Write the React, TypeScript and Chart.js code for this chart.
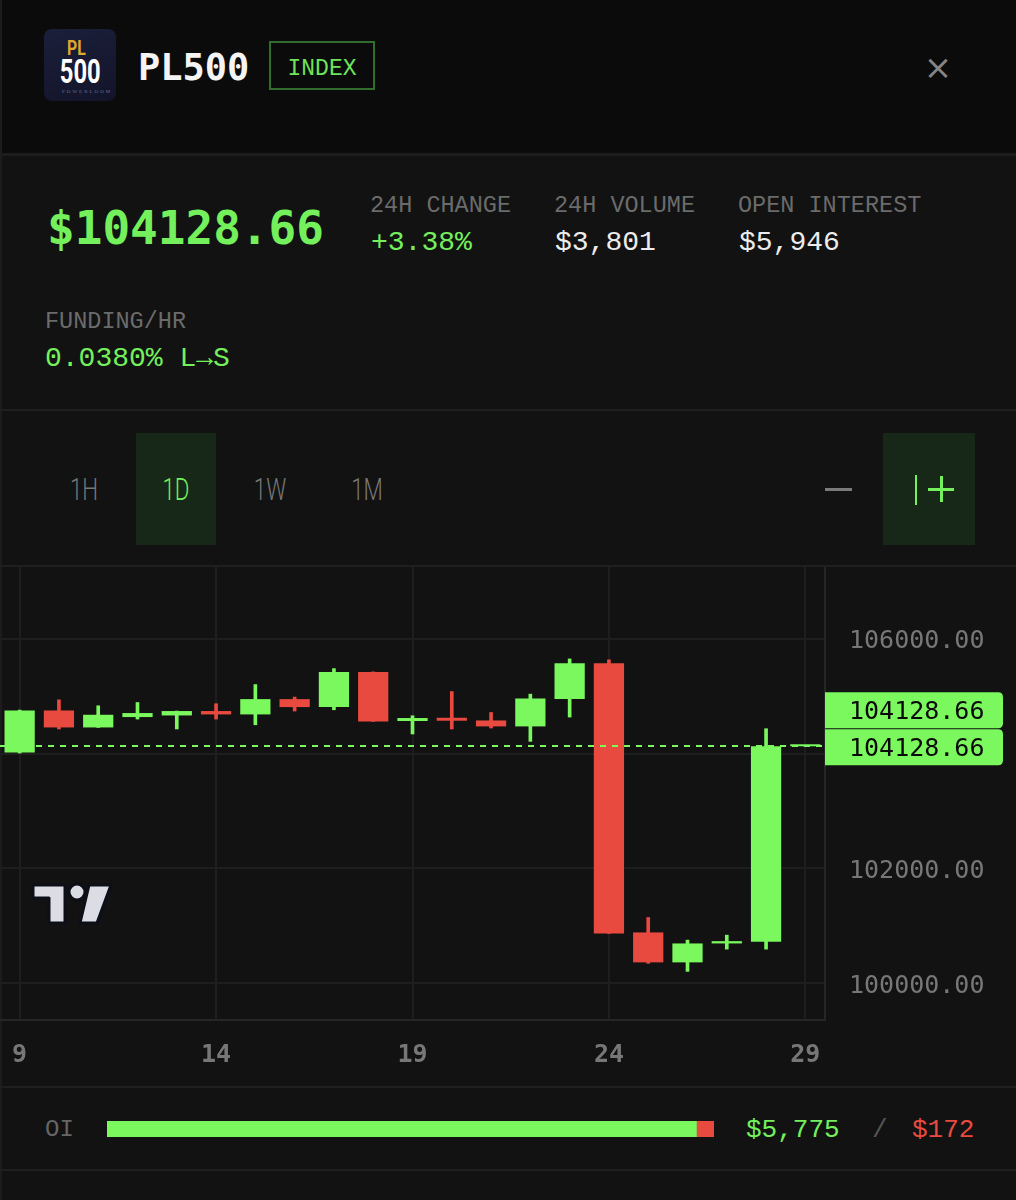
import React, { useEffect, useRef } from 'react';
import { Chart, registerables } from 'chart.js';

Chart.register(...registerables);

// ---- data ----
const days = ['9', '10', '11', '12', '13', '14', '15', '16', '17', '18', '19', '20', '21', '22', '23', '24', '25', '26', '27', '28', '29'];
const opens = [104022, 104753, 104457, 104638, 104666, 104743, 104684, 104951, 104812, 105426, 104569, 104626, 104579, 104475, 104951, 105577, 100882, 100360, 100690, 100718, 104128.66];
const highs = [104760, 104939, 104835, 104892, 104743, 104870, 105205, 104986, 105483, 105426, 104661, 105083, 104718, 105038, 105652, 105635, 101143, 100748, 100835, 104435, 104128.66];
const lows = [104010, 104430, 104457, 104603, 104430, 104603, 104504, 104743, 104765, 104562, 104343, 104430, 104447, 104214, 104638, 100864, 100343, 100203, 100591, 100591, 104128.66];
const closes = [104753, 104457, 104678, 104708, 104743, 104684, 104951, 104812, 105426, 104562, 104621, 104574, 104475, 104962, 105577, 100864, 100360, 100690, 100730, 104128.66, 104128.66];
const lastPrice = 104128.66;
const xTickLabels = ['9', '14', '19', '24', '29'];
const yTicks = [100000, 102000, 104000, 106000];
const yMin = 99355;
const yMax = 107255;

const oiLabels = ['OI'];
const oiLong = [5775];
const oiShort = [172];

const GREEN = '#7af85e';
const RED = '#e84a3f';
const GRID = '#1e1e1e';
const AXIS_TXT = '#777777';
const MONO = '"DejaVu Sans Mono", monospace';
const LMONO = '"Liberation Mono", "DejaVu Sans Mono", monospace';

const priceTagPlugin = {
  id: 'priceTag',
  afterDatasetsDraw(chart: any) {
    const { ctx, chartArea, scales } = chart;
    const y = scales.y.getPixelForValue(lastPrice);
    ctx.save();
    ctx.strokeStyle = GREEN;
    ctx.lineWidth = 2;
    ctx.setLineDash([6, 6]);
    ctx.beginPath();
    ctx.moveTo(chartArea.left, Math.round(y));
    ctx.lineTo(chartArea.right, Math.round(y));
    ctx.stroke();
    ctx.setLineDash([]);
    const h = 36;
    const w = 178;
    const centers = [y - h, y + 1];
    centers.forEach((cy) => {
      const x0 = chartArea.right;
      const y0 = cy - h / 2;
      ctx.fillStyle = GREEN;
      ctx.beginPath();
      const r = 5;
      ctx.moveTo(x0, y0);
      ctx.lineTo(x0 + w - r, y0);
      ctx.quadraticCurveTo(x0 + w, y0, x0 + w, y0 + r);
      ctx.lineTo(x0 + w, y0 + h - r);
      ctx.quadraticCurveTo(x0 + w, y0 + h, x0 + w - r, y0 + h);
      ctx.lineTo(x0, y0 + h);
      ctx.closePath();
      ctx.fill();
      ctx.fillStyle = '#0a0a0a';
      ctx.font = `25px ${MONO}`;
      ctx.textBaseline = 'middle';
      ctx.textAlign = 'left';
      ctx.fillText(lastPrice.toFixed(2), x0 + 24, cy + 2);
    });
    ctx.restore();
  },
};

function CandleChart() {
  const ref = useRef<HTMLCanvasElement | null>(null);
  useEffect(() => {
    if (!ref.current) return;
    const colors = opens.map((o, i) => (closes[i] >= o ? GREEN : RED));
    const chart = new Chart(ref.current, {
      type: 'bar',
      data: {
        labels: days,
        datasets: [
          {
            label: 'wick',
            data: days.map((_, i) => [lows[i], highs[i]]) as any,
            backgroundColor: colors,
            barThickness: 3,
            grouped: false,
            minBarLength: 1,
            order: 2,
          } as any,
          {
            label: 'body',
            data: days.map((_, i) => [opens[i], closes[i]]) as any,
            backgroundColor: colors,
            barPercentage: 0.77,
            categoryPercentage: 1,
            grouped: false,
            minBarLength: 2,
            order: 1,
          } as any,
        ],
      },
      options: {
        animation: false,
        responsive: false,
        devicePixelRatio: 1,
        layout: { padding: { left: 0, right: 0, top: 0, bottom: 0 } },
        plugins: { legend: { display: false }, tooltip: { enabled: false } },
        scales: {
          x: {
            type: 'category',
            offset: true,
            grid: {
              offset: false,
              drawTicks: false,
              lineWidth: 2,
              color: (c: any) => (xTickLabels.includes(days[c.index]) ? GRID : 'rgba(0,0,0,0)'),
            },
            border: { display: true, color: '#262626', width: 2 },
            ticks: {
              autoSkip: false,
              maxRotation: 0,
              padding: 20,
              color: AXIS_TXT,
              font: { family: MONO, size: 25, weight: 'bold' },
              callback: (_v: any, i: number) => (xTickLabels.includes(days[i]) ? days[i] : ''),
            },
            afterFit: (s: any) => {
              s.height = 67;
              s.paddingLeft = 0;
              s.paddingRight = 0;
            },
          } as any,
          y: {
            position: 'right',
            min: yMin,
            max: yMax,
            grid: { color: GRID, drawTicks: false, lineWidth: 2 },
            border: { display: true, color: '#262626', width: 2 },
            afterBuildTicks: (s: any) => {
              s.ticks = yTicks.map((v) => ({ value: v }));
            },
            ticks: {
              padding: 24,
              labelOffset: 3,
              color: AXIS_TXT,
              font: { family: MONO, size: 25 },
              callback: (v: any) => Number(v).toFixed(2),
            },
            afterFit: (s: any) => {
              s.width = 191;
              s.paddingTop = 0;
              s.paddingBottom = 0;
            },
          } as any,
        },
      },
      plugins: [priceTagPlugin],
    });
    return () => chart.destroy();
  }, []);
  return (
    <canvas
      ref={ref}
      width={1016}
      height={520}
      style={{ position: 'absolute', left: 0, top: 567, width: 1016, height: 520 }}
    />
  );
}

function OIBar() {
  const ref = useRef<HTMLCanvasElement | null>(null);
  useEffect(() => {
    if (!ref.current) return;
    const chart = new Chart(ref.current, {
      type: 'bar',
      data: {
        labels: oiLabels,
        datasets: [
          { data: oiLong, backgroundColor: GREEN, barPercentage: 1, categoryPercentage: 1 },
          { data: oiShort, backgroundColor: RED, barPercentage: 1, categoryPercentage: 1 },
        ],
      },
      options: {
        indexAxis: 'y',
        animation: false,
        responsive: false,
        devicePixelRatio: 1,
        layout: { padding: 0 },
        plugins: { legend: { display: false }, tooltip: { enabled: false } },
        scales: {
          x: { stacked: true, display: false, min: 0, max: oiLong[0] + oiShort[0] },
          y: { stacked: true, display: false },
        },
      } as any,
    });
    return () => chart.destroy();
  }, []);
  return (
    <canvas
      ref={ref}
      width={607}
      height={16}
      style={{ position: 'absolute', left: 107, top: 1121, width: 607, height: 16 }}
    />
  );
}

function T(props: {
  x: number;
  cy: number;
  size: number;
  color: string;
  text: string;
  family?: string;
  weight?: any;
  k?: number;
  style?: any;
}) {
  const k = props.k ?? 0.47;
  return (
    <div
      style={{
        position: 'absolute',
        left: props.x,
        top: props.cy - k * props.size,
        fontSize: props.size,
        lineHeight: `${props.size}px`,
        color: props.color,
        fontFamily: props.family ?? LMONO,
        fontWeight: props.weight ?? 'normal',
        whiteSpace: 'nowrap',
        ...(props.style || {}),
      }}
    >
      {props.text}
    </div>
  );
}

function Tab(props: { cx: number; text: string; color: string }) {
  return (
    <div
      style={{
        position: 'absolute',
        left: props.cx - 40,
        width: 80,
        top: 490 - 17,
        height: 34,
        lineHeight: '34px',
        fontSize: 31,
        fontFamily: 'Roboto, sans-serif',
        fontWeight: 300,
        textAlign: 'center',
        color: props.color,
        transform: 'scaleX(0.72)',
      }}
    >
      {props.text}
    </div>
  );
}

export default function App() {
  useEffect(() => {
    document.body.style.margin = '0';
    document.body.style.background = '#121212';
  }, []);
  const label = '#6b6b6b';
  const white = '#ececec';
  const txtGreen = '#74f05c';
  return (
    <div
      style={{
        position: 'relative',
        width: 1016,
        height: 1200,
        background: '#121212',
        overflow: 'hidden',
      }}
    >
      {/* header */}
      <div style={{ position: 'absolute', left: 0, top: 0, width: 1016, height: 153, background: '#0b0b0b' }} />
      <div style={{ position: 'absolute', left: 0, top: 153, width: 1016, height: 3, background: '#1c1c1c' }} />
      <div style={{ position: 'absolute', left: 0, top: 0, width: 2, height: 1200, background: '#1c1c1c' }} />

      {/* logo */}
      <div
        style={{
          position: 'absolute',
          left: 44,
          top: 29,
          width: 72,
          height: 72,
          borderRadius: 8,
          background: 'linear-gradient(160deg,#1c1f3a,#12142a)',
          overflow: 'hidden',
        }}
      >
        <div style={{ position: 'absolute', left: 20, top: 7, fontSize: 21, fontWeight: 'bold', color: '#e0a82a', fontFamily: 'Roboto, sans-serif', transform: 'scaleX(0.75)' }}>PL</div>
        <div style={{ position: 'absolute', left: 8, top: 26, width: 56, textAlign: 'center', fontSize: 33, lineHeight: '34px', fontWeight: 'bold', color: '#ffffff', fontFamily: 'Roboto, sans-serif', transform: 'scaleX(0.72)' }}>500</div>
        <div style={{ position: 'absolute', left: 18, top: 60, fontSize: 5, color: '#6a6f90', letterSpacing: 2 }}>POWERLOOM</div>
      </div>

      <T x={138} cy={66} size={37} color="#f4f4f4" text="PL500" family={MONO} weight="bold" />
      <div
        style={{
          position: 'absolute',
          left: 269,
          top: 41,
          width: 102,
          height: 45,
          border: '2px solid #2f6e2c',
          color: '#6ee45a',
          fontFamily: LMONO,
          fontSize: 23,
          lineHeight: '53px',
          textAlign: 'center',
        }}
      >
        INDEX
      </div>
      <div
        style={{
          position: 'absolute',
          left: 918,
          top: 47,
          width: 40,
          height: 40,
          lineHeight: '40px',
          textAlign: 'center',
          color: '#858585',
          fontSize: 34,
          fontFamily: 'DejaVu Sans, sans-serif',
        }}
      >
        ×
      </div>

      {/* stats */}
      <T x={47} cy={227} size={46} color={txtGreen} text="$104128.66" family={MONO} weight="bold" />
      <T x={370} cy={205} size={23.5} color={label} text="24H CHANGE" />
      <T x={371} cy={242} size={28} color={txtGreen} text="+3.38%" />
      <T x={554} cy={205} size={23.5} color={label} text="24H VOLUME" />
      <T x={555} cy={242} size={28} color={white} text="$3,801" />
      <T x={738} cy={205} size={23.5} color={label} text="OPEN INTEREST" />
      <T x={739} cy={242} size={28} color={white} text="$5,946" />
      <T x={45} cy={321} size={23.5} color={label} text="FUNDING/HR" />
      <T x={45} cy={358} size={28} color={txtGreen} text="0.0380% L→S" />
      <div style={{ position: 'absolute', left: 0, top: 409, width: 1016, height: 2, background: '#1f1f1f' }} />

      {/* tabs */}
      <div style={{ position: 'absolute', left: 136, top: 433, width: 80, height: 112, background: '#182818' }} />
      <Tab cx={84} text="1H" color="#777777" />
      <Tab cx={176} text="1D" color="#74f05c" />
      <Tab cx={270} text="1W" color="#777777" />
      <Tab cx={367} text="1M" color="#777777" />
      <div style={{ position: 'absolute', left: 825, top: 488, width: 27, height: 3, background: '#7a7a7a' }} />
      <div style={{ position: 'absolute', left: 883, top: 433, width: 92, height: 112, background: '#182818' }} />
      <div style={{ position: 'absolute', left: 915, top: 475, width: 2, height: 30, background: '#74f05c' }} />
      <div style={{ position: 'absolute', left: 928, top: 488, width: 26, height: 3, background: '#74f05c' }} />
      <div style={{ position: 'absolute', left: 940, top: 476, width: 3, height: 26, background: '#74f05c' }} />
      <div style={{ position: 'absolute', left: 0, top: 565, width: 1016, height: 2, background: '#1f1f1f' }} />

      {/* chart */}
      <CandleChart />

      {/* tradingview watermark */}
      <svg style={{ position: 'absolute', left: 0, top: 860 }} width={140} height={80}>
        <g fill="#dcdde4" stroke="#0c0e18" strokeWidth={3} strokeLinejoin="round">
          <path d="M33 25 H65 V63 H49 V38 H33 Z" />
          <circle cx={77} cy={32} r={8} />
          <path d="M89 25 H111 L97 63 H80 Z" />
        </g>
      </svg>

      <div style={{ position: 'absolute', left: 0, top: 1086, width: 1016, height: 2, background: '#1f1f1f' }} />

      {/* OI row */}
      <T x={45} cy={1129} size={24} color="#666666" text="OI" />
      <OIBar />
      <T x={746} cy={1129} size={26} color={txtGreen} text="$5,775" />
      <T x={872} cy={1129} size={26} color="#555555" text="/" />
      <T x={912} cy={1129} size={26} color={RED} text="$172" />
      <div style={{ position: 'absolute', left: 0, top: 1169, width: 1016, height: 2, background: '#1f1f1f' }} />
    </div>
  );
}
